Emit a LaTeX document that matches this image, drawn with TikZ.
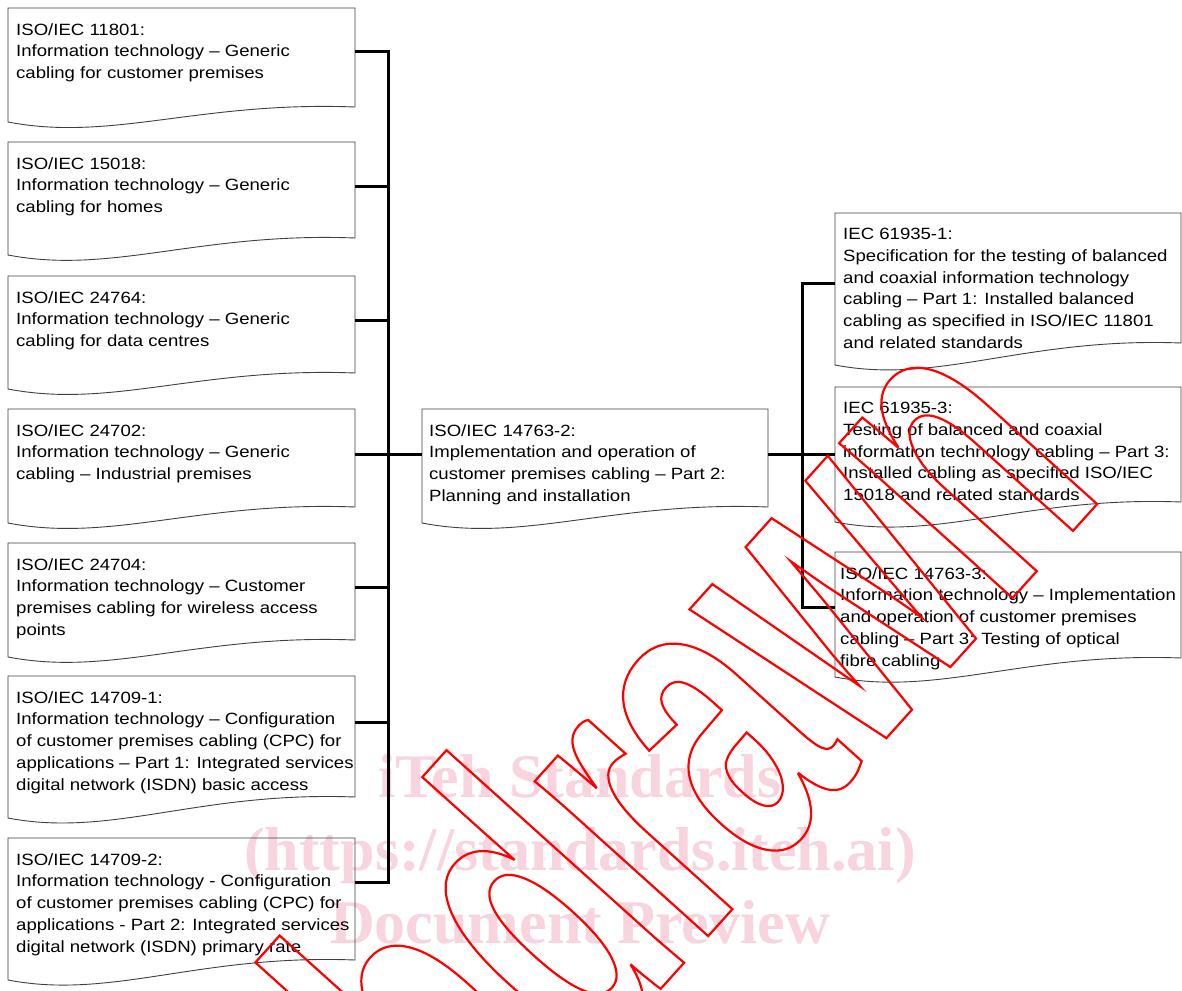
\documentclass[tikz,border=0pt]{standalone}
\usepackage{fontspec}
\usepackage{xcolor}
\setmainfont{Liberation Sans}[FakeStretch=1.14]
\newfontfamily\wmserif{Liberation Serif}
\newfontfamily\wmsans{Liberation Sans}[FakeStretch=0.6, FakeBold=0.5]
\definecolor{wmpink}{RGB}{247,212,222}
\definecolor{wmred}{RGB}{255,0,0}
\newcommand\docbox[9]{%
  \node[anchor=north west, inner sep=0pt, outer sep=0pt,
        minimum width={(#4-#2)*1pt}, minimum height={2*(#5-#3)*1pt}] (#1) at (#2,#3) {};
  \draw[boxline] (#2,#7) -- (#1.north west) -- (#1.north east) -- (#4,#6)
    .. controls ({#2+0.55*(#4-#2)},{#6-6}) and ({#2+0.3*(#4-#2)},{#7+20}) .. cycle;
  \node[boxtext, anchor=north west] (#1t) at ({#2+#8},{#3+15}) {#9};
}
\begin{document}
\begin{tikzpicture}[x=1pt,y=-1pt,
  boxline/.style={draw=black!75, line width=0.9pt, line join=miter},
  boxtext/.style={inner sep=0pt, align=left, font=\fontsize{16.3}{21.8}\selectfont},
  conn/.style={draw=black, line width=3pt},
  wmtext/.style={text=wmpink, inner sep=0pt, font=\wmserif\bfseries\fontsize{62}{62}\selectfont}]
\useasboundingbox (0,0) rectangle (1182,990);
\fill[white] (0,0) rectangle (1182,990);
% faint watermark
\node[wmtext, anchor=base] (wm1) at (580,797) {iTeh Standards};
\node[wmtext, anchor=base] (wm2) at (580,870) {(https://standards.iteh.ai)};
\node[wmtext, anchor=base] (wm3) at (580,943) {Document Preview};
% left column
\docbox{b1}{8}{8}{355}{52}{107}{122}{8}{ISO/IEC 11801:\\Information technology – Generic\\cabling for customer premises}
\docbox{b2}{8}{142}{355}{186}{238}{255}{8}{ISO/IEC 15018:\\Information technology – Generic\\cabling for homes}
\docbox{b3}{8}{276}{355}{320}{373}{389}{8}{ISO/IEC 24764:\\Information technology – Generic\\cabling for data centres}
\docbox{b4}{8}{409}{355}{454}{507}{523}{8}{ISO/IEC 24702:\\Information technology – Generic\\cabling – Industrial premises}
\docbox{b5}{8}{543}{355}{587}{640}{657}{8}{ISO/IEC 24704:\\Information technology – Customer\\premises cabling for wireless access\\points}
\docbox{b6}{8}{676}{355}{722}{797}{818}{8}{ISO/IEC 14709-1:\\Information technology – Configuration\\of customer premises cabling (CPC) for\\applications – Part 1: Integrated services\\digital network (ISDN) basic access}
\docbox{b7}{8}{838}{355}{882}{960}{980}{8}{ISO/IEC 14709-2:\\Information technology - Configuration\\of customer premises cabling (CPC) for\\applications - Part 2: Integrated services\\digital network (ISDN) primary rate}
% centre
\docbox{c}{422}{409}{768}{454}{507}{523}{7}{ISO/IEC 14763-2:\\Implementation and operation of\\customer premises cabling – Part 2:\\Planning and installation}
% right column
\docbox{r1}{835}{213}{1181}{283}{343}{365}{8}{IEC 61935-1:\\Specification for the testing of balanced\\and coaxial information technology\\cabling – Part 1: Installed balanced\\cabling as specified in ISO/IEC 11801\\and related standards}
\docbox{r2}{835}{387}{1181}{454}{502}{522}{8}{IEC 61935-3:\\Testing of balanced and coaxial\\information technology cabling – Part 3:\\Installed cabling as specified ISO/IEC\\15018 and related standards}
\docbox{r3}{835}{552}{1181}{607}{658}{677}{5}{ISO/IEC 14763-3:\\Information technology – Implementation\\and operation of customer premises\\cabling – Part 3: Testing of optical\\fibre cabling}
% connectors
\coordinate (spL) at (388,0);
\coordinate (spR) at (802,0);
\draw[conn] (b1.east) -- (b1.east -| spL) -- (b7.east -| spL) -- (b7.east);
\foreach \b in {b2,b3,b5,b6} \draw[conn] (\b.east) -- (\b.east -| spL);
\draw[conn] (b4.east) -- (c.west);
\draw[conn] (r1.west) -- (r1.west -| spR) -- (r3.west -| spR) -- (r3.west);
\draw[conn] (c.east) -- (r2.west);
% red outlined watermark
\node[rotate=48, anchor=base east, inner sep=0pt, text=wmred] (wd) at (1108,492)
  {\pgfsetfillopacity{0}\pgfsetstrokeopacity{1}\wmsans\bfseries\fontsize{440}{440}\selectfont Withdrawn};
\end{tikzpicture}
\end{document}
